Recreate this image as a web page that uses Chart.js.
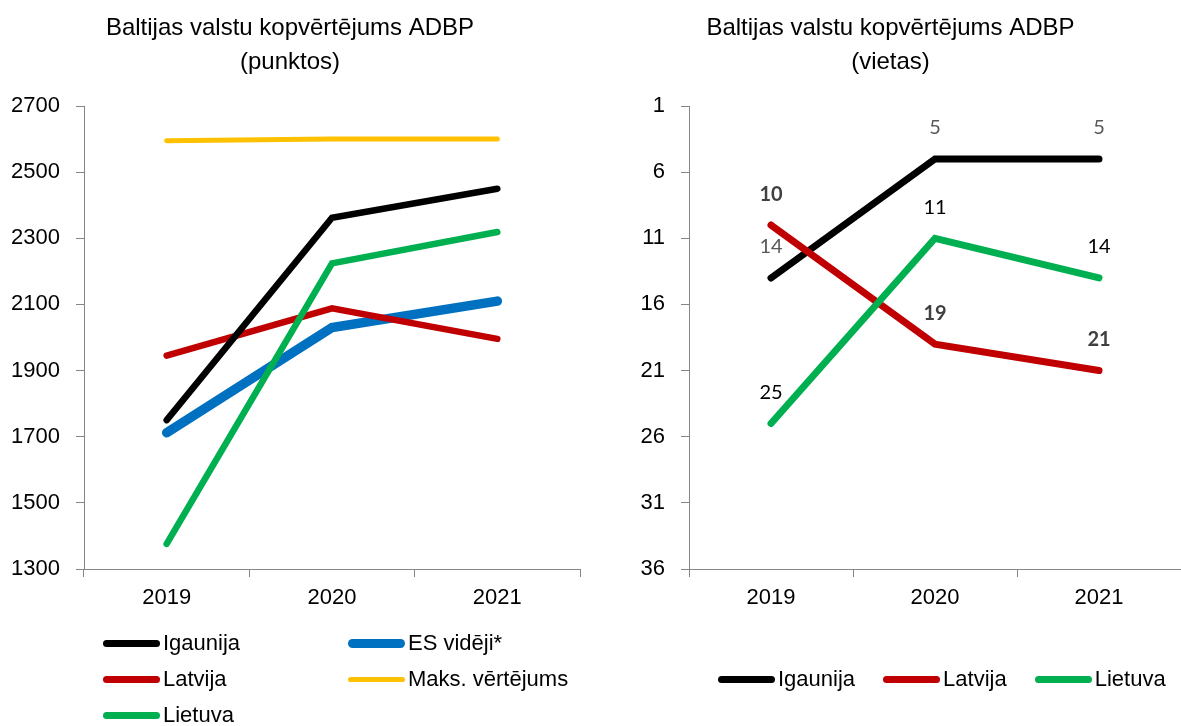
<!DOCTYPE html>
<html><head><meta charset="utf-8">
<script src="https://cdn.jsdelivr.net/npm/chart.js@4/dist/chart.umd.min.js"></script>
<style>
html,body{margin:0;padding:0;background:#fff;}
#wrap{position:relative;width:1181px;height:726px;overflow:hidden;font-family:"Liberation Sans",Arial,sans-serif;}
#c1{position:absolute;left:0;top:0;width:600px;height:726px;}
#c2{position:absolute;left:600px;top:0;width:581px;height:726px;}
.legend{position:absolute;font-size:22px;color:#000;}
#leg1{left:103px;top:625px;display:grid;grid-template-columns:245px 245px;grid-auto-rows:36px;}
#leg2{left:718px;top:661px;display:flex;gap:28px;height:36px;}
.item{display:flex;align-items:center;white-space:nowrap;height:36px;}
.sw{display:inline-block;width:57px;margin-right:3px;}
</style></head>
<body><div id="wrap">
<canvas id="c1" width="600" height="726"></canvas>
<canvas id="c2" width="581" height="726"></canvas>
<div id="leg1" class="legend"></div>
<div id="leg2" class="legend"></div>
</div>
<script>
// ---- data ----
const years = ['2019', '2020', '2021'];
const pointsTicks = [1300, 1500, 1700, 1900, 2100, 2300, 2500, 2700];
const pointsEst = [1750, 2362, 2450];
const pointsEU  = [1712, 2030, 2110];
const pointsLv  = [1945, 2088, 1996];
const pointsMax = [2595, 2600, 2600];
const pointsLt  = [1376, 2224, 2319];
const rankTicks = [1, 6, 11, 16, 21, 26, 31, 36];
const rankEst = [14, 5, 5];
const rankLv  = [10, 19, 21];
const rankLt  = [25, 11, 14];

const FONT = '"Liberation Sans", Arial, sans-serif';
const AXIS = '#868686';

const rankLabels = {
  id: 'rankLabels',
  afterDatasetsDraw(chart) {
    const ctx = chart.ctx;
    chart.data.datasets.forEach((ds, i) => {
      const st = ds.labelStyle; if (!st) return;
      const meta = chart.getDatasetMeta(i);
      ctx.save();
      ctx.font = st.weight + ' 20px Lato, "Open Sans", sans-serif';
      ctx.fillStyle = st.color; ctx.textAlign = 'center'; ctx.textBaseline = 'middle';
      meta.data.forEach((pt, j) => ctx.fillText(String(ds.data[j]), pt.x, pt.y - st.offset));
      ctx.restore();
    });
  }
};

function scales(min, max, ticksArr, yWidth, reverse) {
  return {
    x: {
      offset: true,
      afterFit: s => { s.height = 157; },
      border: { color: AXIS, width: 1 },
      grid: { offset: true, drawOnChartArea: false, drawTicks: true, tickLength: 8, color: AXIS },
      ticks: { font: { family: FONT, size: 22 }, color: '#000', padding: 8 }
    },
    y: {
      min: min, max: max, reverse: reverse,
      afterBuildTicks: s => { s.ticks = ticksArr.map(v => ({ value: v })); },
      afterFit: s => { s.width = yWidth; },
      border: { color: AXIS, width: 1 },
      grid: { drawOnChartArea: false, drawTicks: true, tickLength: 8, color: AXIS },
      ticks: { font: { family: FONT, size: 22 }, color: '#000', padding: 16, callback: v => String(v) }
    }
  };
}

function title(lines) {
  return { display: true, text: lines, color: '#000',
    font: { family: FONT, size: 24, weight: 'normal', lineHeight: 1.4167 },
    padding: { top: 11, bottom: 27 } };
}

const common = {
  responsive: false, animation: false,
  elements: { point: { radius: 0, hoverRadius: 0 }, line: { tension: 0, borderCapStyle: 'round', borderJoinStyle: 'miter' } },
};

const chart1 = new Chart(document.getElementById('c1'), {
  type: 'line',
  data: {
    labels: years,
    datasets: [
      { label: 'Igaunija', data: pointsEst, borderColor: '#000000', borderWidth: 6.5, order: 2, sw: 7 },
      { label: 'ES vidēji*', data: pointsEU, borderColor: '#0070C0', borderWidth: 9.5, order: 4, sw: 9 },
      { label: 'Latvija', data: pointsLv, borderColor: '#C00000', borderWidth: 6.5, order: 3, sw: 7 },
      { label: 'Maks. vērtējums', data: pointsMax, borderColor: '#FFC000', borderWidth: 5, order: 5, sw: 5 },
      { label: 'Lietuva', data: pointsLt, borderColor: '#00B050', borderWidth: 6.5, order: 1, sw: 7 }
    ]
  },
  options: Object.assign({}, common, {
    layout: { padding: { left: 0, right: 20, top: 0, bottom: 0 } },
    plugins: { legend: { display: false }, tooltip: { enabled: false },
      title: title(['Baltijas valstu kopvērtējums ADBP', '(punktos)']) },
    scales: scales(1300, 2700, pointsTicks, 84, false)
  })
});

const chart2 = new Chart(document.getElementById('c2'), {
  type: 'line',
  data: {
    labels: years,
    datasets: [
      { label: 'Igaunija', data: rankEst, borderColor: '#000000', borderWidth: 7, order: 3, sw: 7,
        labelStyle: { color: '#595959', weight: 'normal', offset: 31 } },
      { label: 'Latvija', data: rankLv, borderColor: '#C00000', borderWidth: 7, order: 2, sw: 7,
        labelStyle: { color: '#404040', weight: 'bold', offset: 31 } },
      { label: 'Lietuva', data: rankLt, borderColor: '#00B050', borderWidth: 7, order: 1, sw: 7,
        labelStyle: { color: '#000000', weight: 'normal', offset: 31 } }
    ]
  },
  options: Object.assign({}, common, {
    layout: { padding: { left: 0, right: 0, top: 0, bottom: 0 } },
    plugins: { legend: { display: false }, tooltip: { enabled: false },
      title: title(['Baltijas valstu kopvērtējums ADBP', '(vietas)']) },
    scales: scales(1, 36, rankTicks, 89, true)
  }),
  plugins: [rankLabels]
});

function buildLegend(chart, el) {
  chart.data.datasets.forEach(ds => {
    const it = document.createElement('div'); it.className = 'item';
    const sw = document.createElement('span'); sw.className = 'sw';
    sw.style.background = ds.borderColor; sw.style.height = ds.sw + 'px'; sw.style.borderRadius = (ds.sw / 2) + 'px';
    const tx = document.createElement('span'); tx.textContent = ds.label;
    it.appendChild(sw); it.appendChild(tx); el.appendChild(it);
  });
}
buildLegend(chart1, document.getElementById('leg1'));
buildLegend(chart2, document.getElementById('leg2'));
</script>
</body></html>
